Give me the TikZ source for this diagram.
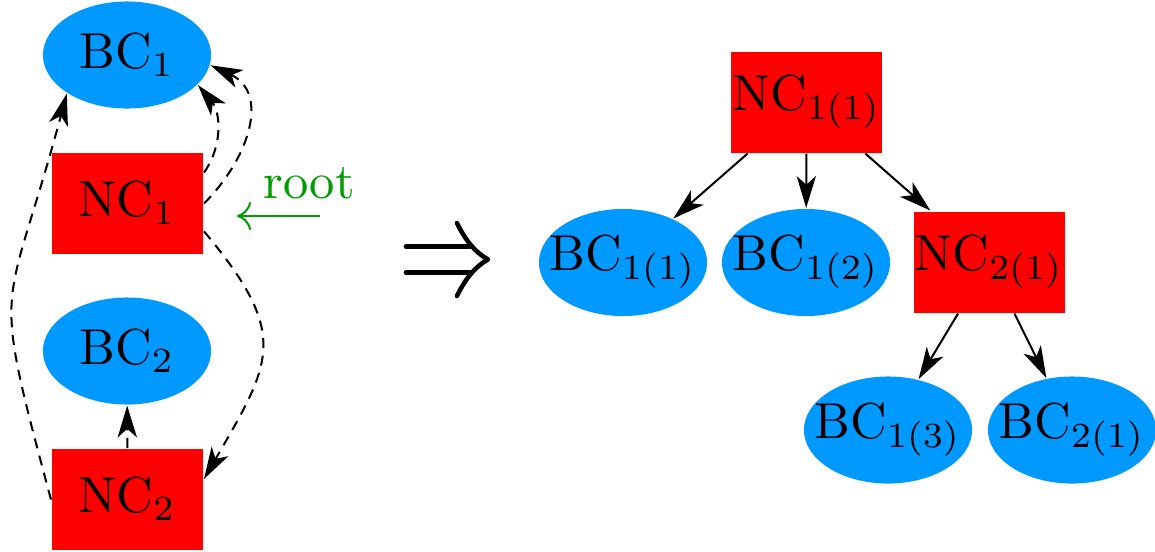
\documentclass[tikz,border=0pt]{standalone}
\usetikzlibrary{shapes.geometric, arrows.meta}
\definecolor{bcblue}{RGB}{0,153,255}
\definecolor{ncred}{RGB}{255,0,0}
\definecolor{rootgreen}{RGB}{0,155,0}
\begin{document}
\begin{tikzpicture}[x=0.198pt, y=0.198pt, line join=round,
    >={Stealth[length=6.3pt, width=3.8pt, inset=1.7pt]},
    bc/.style={ellipse, fill=bcblue, minimum width=33.3pt, minimum height=21.2pt, inner xsep=-3.2pt, inner ysep=0.4pt},
    nc/.style={rectangle, fill=ncred, minimum width=29.9pt, minimum height=20pt, inner sep=0pt},
    link/.style={->, line width=0.4pt},
    back/.style={link, dash pattern=on 2pt off 1.5pt},
    impl/.style={line width=0.9pt, line cap=round}]
  % Picture size (pixels of the reference, y downwards as negative)
  \useasboundingbox (0,0) rectangle (1155,-551);

  % Left: clusters before the split
  \node[bc] (BC1) at (127,-55) {$\mathrm{BC}_1$};
  \node[nc] (NC1) at (127.5,-203.5) {$\mathrm{NC}_1$};
  \node[bc] (BC2) at (127,-351) {$\mathrm{BC}_2$};
  \node[nc] (NC2) at (127.5,-499.5) {$\mathrm{NC}_2$};

  % Dashed back links
  \draw[back] (NC1.22) to[out=55, in=-50] (BC1.-23);
  \draw[back] (NC1.east) to[out=45, in=-25, looseness=1.2] (BC1.-7);
  \draw[back] (NC1.-20) to[out=-50, in=60, looseness=1.4] (NC2.15);
  \draw[back] (NC2) -- (BC2);
  \draw[back] (NC2.west) to[out=105, in=255, looseness=1.5] (BC1.south west);

  % Root marker
  \coordinate (rootA) at (320,-216);
  \coordinate (rootB) at (237,-216);
  \draw[rootgreen, line width=0.4pt, -{To[length=2.8pt, width=5.6pt]}] (rootA) -- (rootB);
  \node[rootgreen, anchor=base] (rootlbl) at (309,-198) {root};

  % Right: resulting tree
  \node[nc] (NC11) at (806.5,-102) {$\mathrm{NC}_{1(1)}$};
  \node[bc] (BC11) at (623,-262.5) {$\mathrm{BC}_{1(1)}$};
  \node[bc] (BC12) at (806,-262.5) {$\mathrm{BC}_{1(2)}$};
  \node[nc] (NC21) at (989,-262) {$\mathrm{NC}_{2(1)}$};
  \node[bc] (BC13) at (888,-430) {$\mathrm{BC}_{1(3)}$};
  \node[bc] (BC21) at (1072,-430) {$\mathrm{BC}_{2(1)}$};

  \draw[link] (NC11) -- (BC11);
  \draw[link] (NC11) -- (BC12);
  \draw[link] (NC11) -- (NC21);
  \draw[link] (NC21) -- (BC13);
  \draw[link] (NC21) -- (BC21);

  % Implication sign, tip just left of the new tree
  \coordinate (impTip) at ([xshift=-9.9pt, yshift=0.6pt]BC11.west);
  \begin{scope}[shift={(impTip)}]
    \draw[impl] (-82,12.8) -- (-18,12.8) (-82,-12.8) -- (-18,-12.8);
    \draw[impl] (-31,36.5) .. controls (-22,18.5) and (-13,7.5) .. (0,0)
      .. controls (-13,-7.5) and (-22,-18.5) .. (-31,-36.5);
  \end{scope}
\end{tikzpicture}
\end{document}
